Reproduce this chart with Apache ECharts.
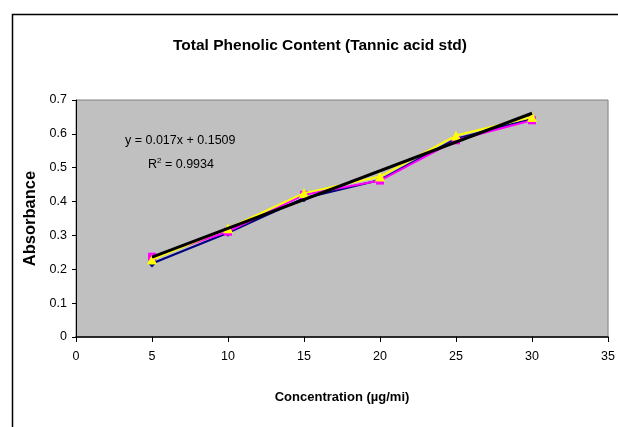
<!DOCTYPE html>
<html><head><meta charset="utf-8">
<script src="https://cdn.jsdelivr.net/npm/echarts@6/dist/echarts.min.js"></script>
<style>html,body{margin:0;padding:0;background:#fff}#c{width:618px;height:427px}</style>
</head><body><div id="c"></div>
<script>
const concentrations = [5, 10, 15, 20, 25, 30];
const seriesBlue = [0.217, 0.308, 0.410, 0.464, 0.586, 0.644];
const seriesMagenta = [0.237, 0.311, 0.420, 0.462, 0.581, 0.640];
const seriesYellow = [0.229, 0.321, 0.425, 0.474, 0.595, 0.650];
const trendX = [5, 30];
const trendY = [0.2359, 0.6609];
const titleText = 'Total Phenolic Content (Tannic acid std)';
const xName = 'Concentration (µg/mi)';
const yName = 'Absorbance';
const eqText = 'y = 0.017x + 0.1509';

const pair = (xs, ys) => xs.map((x, i) => [x, ys[i]]);
const F = '"Liberation Sans", Arial, sans-serif';
const chart = echarts.init(document.getElementById('c'));
chart.setOption({
  animation: false,
  backgroundColor: '#fff',
  title: { text: titleText, left: 315, textAlign: 'center', top: 33, textStyle: { fontFamily: F, fontSize: 15.5, fontWeight: 'bold', color: '#000' } },
  grid: { left: 76, right: 8, top: 100, bottom: 90, show: true, backgroundColor: '#C0C0C0', borderColor: '#808080', borderWidth: 1 },
  xAxis: {
    type: 'value', min: 0, max: 35, interval: 5,
    name: xName, nameLocation: 'middle', nameGap: 54,
    nameTextStyle: { fontFamily: F, fontSize: 13, fontWeight: 'bold', color: '#000' },
    axisLine: { lineStyle: { color: '#000', width: 1.5 } },
    axisTick: { show: true, length: 5, lineStyle: { color: '#000' } },
    axisLabel: { fontFamily: F, fontSize: 12.5, color: '#000', margin: 13 },
    splitLine: { show: false }
  },
  yAxis: {
    type: 'value', min: 0, max: 0.7, interval: 0.1,
    name: yName, nameLocation: 'middle', nameGap: 33,
    nameTextStyle: { fontFamily: F, fontSize: 16.5, fontWeight: 'bold', color: '#000' },
    axisLine: { show: true, lineStyle: { color: '#000', width: 1 } },
    axisTick: { show: true, length: 4, lineStyle: { color: '#000' } },
    axisLabel: { fontFamily: F, fontSize: 12.5, color: '#000', margin: 9, formatter: v => String(Math.round(v * 10) / 10) },
    splitLine: { show: false }
  },
  series: [
    { type: 'line', data: pair(concentrations, seriesBlue), symbol: 'diamond', symbolSize: 8, lineStyle: { color: '#000080', width: 2 }, itemStyle: { color: '#000080' }, z: 2 },
    { type: 'line', data: pair(concentrations, seriesMagenta), symbol: 'rect', symbolSize: 8, lineStyle: { color: '#FF00FF', width: 2 }, itemStyle: { color: '#FF00FF' }, z: 3 },
    { type: 'line', data: pair(concentrations, seriesYellow), symbol: 'triangle', symbolSize: 10, lineStyle: { color: '#FFFF00', width: 2 }, itemStyle: { color: '#FFFF00' }, z: 4 },
    { type: 'line', data: pair(trendX, trendY), symbol: 'none', lineStyle: { color: '#000', width: 3 }, z: 5 }
  ],
  graphic: [
    { type: 'rect', left: 10, top: 12, shape: { width: 640, height: 440 }, style: { fill: 'none', stroke: '#000', lineWidth: 1.5 }, z: 100, silent: true },
    { type: 'text', left: 125, top: 134, style: { text: eqText, fontFamily: F, fontSize: 12.5, fill: '#000' }, z: 100 },
    { type: 'text', left: 148, top: 157, style: { rich: { a: { fontFamily: F, fontSize: 12.5, fill: '#000' }, s: { fontFamily: F, fontSize: 8, fill: '#000', verticalAlign: 'top', padding: [0, 0, 7, 0] } }, text: '{a|R}{s|2}{a| = 0.9934}' }, z: 100 }
  ]
});
</script></body></html>
